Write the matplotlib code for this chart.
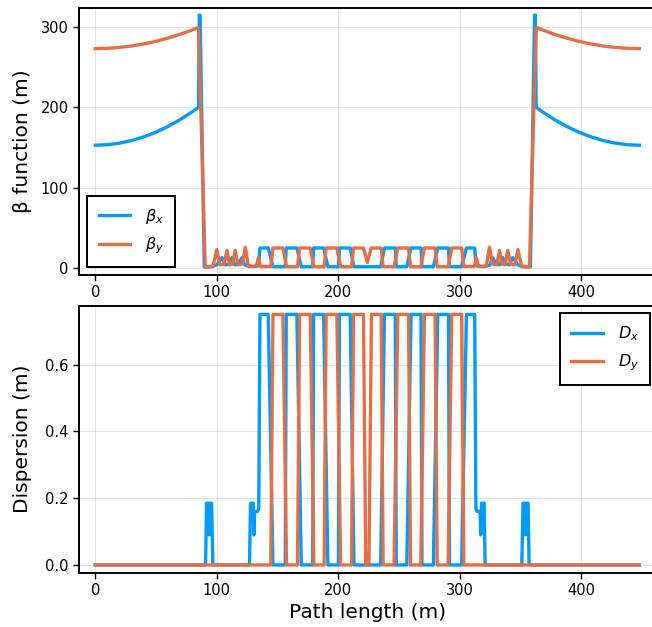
import matplotlib
matplotlib.use("Agg")
import matplotlib.pyplot as plt

# lattice functions (path length in m)
s_bx = [0, 10, 20, 30, 40, 50, 60, 70, 80, 85, 85.6, 86.3, 89.7,
        96, 100, 104.3, 107, 110, 112.5, 115, 118, 120.8, 123, 127, 131, 134.5,
        135.6, 142.4, 146.3, 156.4, 157.2, 166.0, 169.6, 179.0, 179.8, 188.0, 191.5,
        200.2, 201.0, 209.9, 213.0, 235.0, 238.1, 247.0, 247.8, 256.5, 260.0, 268.2,
        269.0, 278.4, 282.0, 290.8, 291.6, 301.7, 305.6, 312.4, 313.5,
        317, 321, 325, 327.2, 330, 333, 335.5, 338, 341, 343.7, 348, 352,
        358.3, 361.7, 362.4, 363, 368, 378, 388, 398, 408, 418, 428, 438, 448]
bx = [153.0, 153.7, 155.6, 158.9, 163.5, 169.3, 176.5, 185.0, 194.8, 200.2, 315, 315, 1.5,
      1.5, 4, 13, 4, 5, 13, 4, 5, 13, 4, 2, 2, 3,
      25, 25, 1.7, 1.7, 25, 25, 1.7, 1.7, 25, 25, 1.7,
      1.7, 25, 25, 1.7, 1.7, 25, 25, 1.7, 1.7, 25, 25,
      1.7, 1.7, 25, 25, 1.7, 1.7, 25, 25, 3,
      2, 2, 4, 13, 5, 4, 13, 5, 4, 13, 4, 1.5,
      1.5, 315, 315, 200.2, 194.8, 185.0, 176.5, 169.3, 163.5, 158.9, 155.6, 153.7, 153.0]

s_by = [0, 10, 20, 30, 40, 50, 60, 70, 80, 85, 87.5, 90.5,
        97, 100, 102.5, 106, 108.4, 110.5, 113, 115.2, 117.5, 121, 123.5, 126, 130, 132.5, 134.4, 136,
        144.5, 146.3, 154.5, 157.5, 166.5, 168.2, 177, 180, 188.4, 190.1, 198.9, 202,
        211, 212.6, 220.8, 224, 227.2, 235.4, 237, 246, 249.1, 257.9, 259.6,
        268, 271, 279.8, 281.5, 290.5, 293.5, 301.7, 303.5,
        312, 313.6, 315.5, 318, 322, 324.5, 327, 330.5, 332.8, 335, 337.5, 339.6, 342, 345.5, 348, 351,
        357.5, 360.5, 363, 368, 378, 388, 398, 408, 418, 428, 438, 448]
by = [273.3, 273.7, 274.8, 276.6, 279.2, 282.4, 286.5, 291.2, 296.7, 299.7, 165, 1.7,
      2.5, 23, 4, 5, 22, 4, 5, 22, 4, 5, 26, 3, 2, 3, 13, 2,
      2, 25, 25, 1.7, 1.7, 25, 25, 1.7, 1.7, 25, 25, 1.7,
      1.7, 25, 25, 7, 25, 25, 1.7, 1.7, 25, 25, 1.7,
      1.7, 25, 25, 1.7, 1.7, 25, 25, 2,
      2, 13, 3, 2, 3, 26, 5, 4, 22, 5, 4, 22, 5, 4, 23, 2.5,
      1.7, 165, 299.7, 296.7, 291.2, 286.5, 282.4, 279.2, 276.6, 274.8, 273.7, 273.3]

s_dx = [0, 90.8, 91.6, 93.0, 93.8, 94.6, 95.8, 96.8,
        127.0, 127.8, 130.0, 130.6, 131.2, 133.6, 134.6, 135.6, 142.4, 146.3,
        156.4, 157.2, 166.0, 169.6, 179.0, 179.8, 188.0, 191.5, 200.2, 201.0, 209.9, 213.0,
        235.0, 238.1, 247.0, 247.8, 256.5, 260.0, 268.2, 269.0, 278.4, 282.0, 290.8, 291.6,
        301.7, 305.6, 312.4, 313.4, 314.4, 316.8, 317.4, 318.0, 320.2, 321.0,
        351.2, 352.2, 353.4, 354.2, 355.0, 356.4, 357.2, 448]
dx = [0, 0, 0.185, 0.185, 0.09, 0.185, 0.185, 0,
      0, 0.185, 0.185, 0.09, 0.16, 0.16, 0.17, 0.75, 0.75, 0,
      0, 0.75, 0.75, 0, 0, 0.75, 0.75, 0, 0, 0.75, 0.75, 0,
      0, 0.75, 0.75, 0, 0, 0.75, 0.75, 0, 0, 0.75, 0.75, 0,
      0, 0.75, 0.75, 0.17, 0.16, 0.16, 0.09, 0.185, 0.185, 0,
      0, 0.185, 0.185, 0.09, 0.185, 0.185, 0, 0]

s_dy = [0, 144.5, 146.3, 154.5, 157.5, 166.5, 168.2, 177.0, 180.0, 188.4, 190.1, 198.9, 202.0,
        211.0, 212.6, 220.8, 222.7, 225.3, 227.4, 235.4, 237.0, 246.0, 249.1, 257.9, 259.6,
        268.0, 271.0, 279.8, 281.5, 290.5, 293.5, 301.7, 303.5, 448]
dy = [0, 0, 0.75, 0.75, 0, 0, 0.75, 0.75, 0, 0, 0.75, 0.75, 0,
      0, 0.75, 0.75, 0, 0, 0.75, 0.75, 0, 0, 0.75, 0.75, 0,
      0, 0.75, 0.75, 0, 0, 0.75, 0.75, 0, 0]

x_ticks = [0, 100, 200, 300, 400]
beta_ticks = [0, 100, 200, 300]
disp_ticks = [0.0, 0.2, 0.4, 0.6]

blue = "#009AFA"
orange = "#E36F47"

plt.rcParams["font.family"] = "DejaVu Sans"
plt.rcParams["mathtext.fontset"] = "dejavusans"

fig = plt.figure(figsize=(6.52, 6.27), dpi=100)
ax1 = fig.add_axes([0.1212, 0.5622, 0.8844, 0.4258])
ax2 = fig.add_axes([0.1212, 0.0869, 0.8844, 0.4258])

ax1.plot(s_bx, bx, color=blue, lw=2.4, label=r"$\beta_x$")
ax1.plot(s_by, by, color=orange, lw=2.4, label=r"$\beta_y$")
ax2.plot(s_dx, dx, color=blue, lw=2.4, label=r"$D_x$")
ax2.plot(s_dy, dy, color=orange, lw=2.4, label=r"$D_y$")

ax1.set_ylim(-8, 324.5)
ax2.set_ylim(-0.0226, 0.7766)
ax1.set_yticks(beta_ticks)
ax2.set_yticks(disp_ticks)
ax2.set_yticklabels(["%.1f" % v for v in disp_ticks])

for ax in (ax1, ax2):
    ax.set_xlim(-13.4, 461.4)
    ax.set_xticks(x_ticks)
    ax.grid(True, color="black", alpha=0.1, lw=0.8)
    ax.tick_params(direction="out", length=4, width=1, labelsize=10.5, colors="black")
    for sp in ax.spines.values():
        sp.set_linewidth(1.4)
        sp.set_color("black")

ax1.set_ylabel("β function (m)", fontsize=14.5)
ax2.set_ylabel("Dispersion (m)", fontsize=14.5)
ax2.set_xlabel("Path length (m)", fontsize=14.5)
ax1.yaxis.set_label_coords(-0.082, 0.5)
ax2.yaxis.set_label_coords(-0.082, 0.5)

leg1 = ax1.legend(loc="lower left", bbox_to_anchor=(0.0144, 0.027), borderaxespad=0,
                  fontsize=11.5, fancybox=False, framealpha=1, edgecolor="black",
                  handlelength=2.0, handletextpad=0.9, borderpad=0.7, labelspacing=0.6)
leg2 = ax2.legend(loc="upper right", bbox_to_anchor=(0.990, 0.971), borderaxespad=0,
                  fontsize=11.5, fancybox=False, framealpha=1, edgecolor="black",
                  handlelength=2.0, handletextpad=0.9, borderpad=0.7, labelspacing=0.6)
for leg in (leg1, leg2):
    leg.get_frame().set_linewidth(1.4)

fig.savefig("out.png", dpi=100)
